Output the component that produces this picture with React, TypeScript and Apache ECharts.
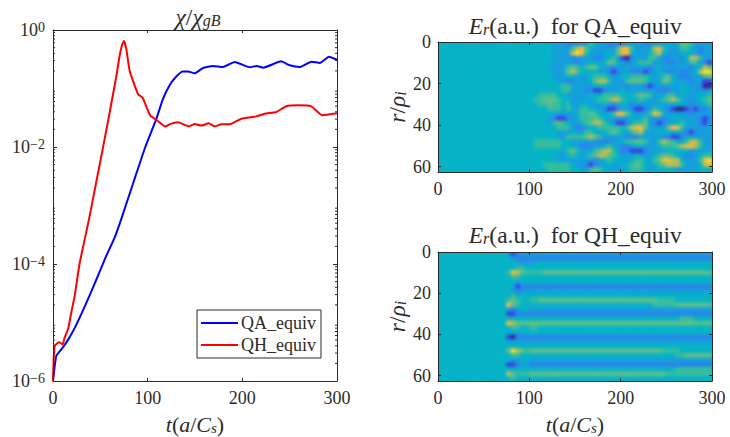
import React, { useEffect, useRef } from "react";
import * as echarts from "echarts";

const FONT = '"Liberation Serif", "Times New Roman", serif';
const INK = "#2b2b2b";

const T_BLUE = [0, 1.8, 3.5, 6.3, 10.6, 16, 23, 30, 38.7, 47.5, 56, 65, 72, 85, 97.5, 109, 116, 123, 130, 137, 142.6, 149.6, 158.5, 169, 179.6, 192, 208, 215, 222, 241, 250, 260.6, 273, 282, 291.5, 300];
const CHI_BLUE = [1e-6, 1.8e-6, 2.7e-6, 3.1e-6, 3.8e-6, 5.1e-6, 8.1e-6, 1.4e-5, 2.9e-5, 6.3e-5, 1.35e-4, 2.8e-4, 5.8e-4, 2.5e-3, 0.01, 0.0297, 0.0653, 0.113, 0.159, 0.196, 0.196, 0.182, 0.224, 0.243, 0.233, 0.284, 0.23, 0.243, 0.227, 0.291, 0.249, 0.233, 0.288, 0.273, 0.35, 0.311];
const T_RED = [0, 0.7, 1.8, 5.3, 7, 10, 12.3, 16, 19, 23, 28, 38, 45, 53.5, 60, 67, 70.4, 73, 75, 77.5, 81, 86.5, 90, 94.7, 99, 103, 109.5, 118.7, 123, 132, 143.7, 149.6, 156.7, 164.4, 170.8, 177.8, 186.6, 199, 214.8, 223.6, 235.9, 246.5, 258.8, 272.9, 284.5, 300];
const CHI_RED = [1e-6, 2.3e-6, 4e-6, 4.5e-6, 4.6e-6, 4.2e-6, 5.5e-6, 7.8e-6, 1.4e-5, 2.9e-5, 1e-4, 5.8e-4, 2.2e-3, 0.0112, 0.04, 0.166, 0.363, 0.56, 0.648, 0.467, 0.199, 0.11, 0.0795, 0.0697, 0.047, 0.0339, 0.029, 0.0223, 0.0244, 0.0264, 0.0225, 0.0247, 0.0232, 0.0254, 0.0225, 0.0244, 0.0244, 0.0305, 0.0334, 0.0371, 0.0397, 0.0496, 0.0515, 0.0496, 0.0348, 0.0376];

const MINOR_DECADES = [1e-6, 1e-5, 1e-4, 1e-3, 1e-2, 1e-1];
const MINOR_STEPS = [2, 3, 4, 5, 6, 7, 8, 9];
const X_NAME = "{xi|t}{xn|(}{xi|a}{xn|/}{xi|C}{xs|s}{xn|)}";
const Y_NAME = "{i|r}{n|/}{i|\u03c1}{sub|i}";

// colour levels 0-9, t in steps of 5 from 0, r in 28 rows from 0 to 62.6
const LEVEL_COLORS = ["#33208f", "#3a42e2", "#2b84ea", "#149fdc", "#06b3c6", "#35bd9f", "#60bf88", "#bcbc55", "#f2bc3a", "#fbe31e"];
const BACKDROP = "#06b3c6";
const QA_FLAT = "44444444444444444444"; // t 0-95
const QA_ROWS = [
  "44444333 22333543 32222333 32233343 46653333",
  "44444333 35786433 33368853 33478533 35543233",
  "44444333 37985333 34368843 33467433 34433233",
  "44444333 32233322 34531023 33553223 32477533",
  "44444333 33233443 46643234 55533322 33355321",
  "44443333 56545664 33233433 33234333 33323476",
  "44444333 67644443 32123322 21234322 32234799",
  "44444333 44333455 54334455 55433564 32233356",
  "44444433 22333467 75333566 65434664 33323311",
  "44444445 54333344 43333233 32123333 34333200",
  "44444445 53332211 23334333 33332223 34433323",
  "44555544 33333444 55554445 66533355 34333445",
  "45566654 43333345 56775444 54334567 64333456",
  "44556554 53344333 43234323 23333333 43323345",
  "44445554 54355443 21123321 12354321 00121223",
  "44444333 33455654 34588643 33587433 33323333",
  "44443211 23355565 43333343 45333234 43333212",
  "44443565 43345677 54211245 56321233 45433213",
  "44444455 53223445 55554578 86433368 85333333",
  "44444433 34335543 45654356 74334443 43212333",
  "44444433 55556765 33333222 33333221 12343333",
  "45555554 43333332 22334556 65335765 43577533",
  "45555554 44322233 45432234 43334555 67887533",
  "44444443 56533356 77532211 12333344 44433334",
  "44444433 45434567 76543334 33345665 43223455",
  "44444433 33333323 45443345 54356887 74333589",
  "44455555 54332123 34334456 54345677 75333478",
  "44445555 54433565 43333455 54334444 33333444",
];
const QH_FLAT = "444444444444"; // t 0-55
const QH_ROWS = [
  "44431233 33333333 33333333 33333333 33333333 33333333",
  "44443222 22222222 22222222 22222222 22222222 22222222",
  "44444333 34444444 44444444 44444444 44444444 44444444",
  "44444554 44444444 44444444 44444444 44444444 44444444",
  "44458765 55566666 66666666 66666666 66666666 66666666",
  "44445544 44444444 44444444 44444444 44444444 44444444",
  "44444344 44444444 44444444 44444444 44444444 44444444",
  "44443122 22222222 22222222 22222222 22222222 22222222",
  "44443233 33333333 33333333 33333333 33333333 33333333",
  "44445444 44444444 44444444 44444444 44444444 44444444",
  "44456544 55666666 66666666 66666666 66665555 44444444",
  "44486544 44444444 44444444 44444444 44455555 66666666",
  "44432344 33333333 33333333 33333333 33333333 33333333",
  "44411222 22222222 22222222 22222222 22222222 22222222",
  "44444444 44444444 44444444 44444444 44444444 45554444",
  "44487666 66666666 66666666 66666666 66666666 66666566",
  "44445544 55444444 44444444 44444444 44444444 44444444",
  "44444344 44444444 44444444 44444444 44444444 44444444",
  "44410222 22222222 22222222 22222222 22222222 22222222",
  "44433333 33333333 33333333 33333333 33333333 33333333",
  "44444444 44444444 44444444 44444444 44444444 44444444",
  "44469765 66666666 66666666 66666666 66666555 54444444",
  "44445544 44444444 44444444 44444444 44444444 55666666",
  "44443344 33333333 33333333 33333333 33333333 33333333",
  "44411233 22222222 22222222 22222222 22222222 22222222",
  "44444444 44444444 44444444 44444444 44444444 55555555",
  "44476555 66666666 66666666 66666666 66666655 55555555",
  "44445444 44444444 44444444 44444444 44444444 44444444",
];

const T_STEPS = Array.from({ length: 60 }, (_, i) => String(i * 5));
const R_ROWS = Array.from({ length: 28 }, (_, i) => String(i));

function cells(flat: string, rows: string[]) {
  const out: number[][] = [];
  rows.forEach((row, r) => {
    const s = flat + row.replace(/ /g, "");
    for (let c = 0; c < s.length; c++) out.push([c, r, Number(s[c])]);
  });
  return out;
}

const base = { fontFamily: FONT, fontSize: 18, color: INK };
const rich = {
  i: { ...base, fontSize: 23.5, fontStyle: "italic", lineHeight: 22 },
  n: { ...base, fontSize: 23.5, lineHeight: 22 },
  sub: { ...base, fontSize: 16, fontStyle: "italic", verticalAlign: "bottom", lineHeight: 22 },
  xi: { ...base, fontSize: 22, fontStyle: "italic", lineHeight: 22 },
  xn: { ...base, fontSize: 22, lineHeight: 22 },
  xs: { ...base, fontSize: 15, fontStyle: "italic", verticalAlign: "bottom", lineHeight: 22 },
  b: { ...base, lineHeight: 20 },
  s: { ...base, fontSize: 14, verticalAlign: "top", lineHeight: 20 },
};

const GRIDS = [
  { left: 53, top: 30, width: 284, height: 351, outerBoundsMode: "none" },
  { left: 438, top: 42, width: 274, height: 130, outerBoundsMode: "none" },
  { left: 438, top: 252, width: 274, height: 129, outerBoundsMode: "none" },
];

function valueX(gridIndex: number, shown: boolean, name?: string) {
  return {
    type: "value", gridIndex, min: 0, max: 300, interval: 100,
    position: shown ? "bottom" : "top",
    name, nameLocation: "middle", nameGap: 32,
    nameTextStyle: { rich },
    axisLine: { show: true, onZero: false, lineStyle: { color: INK, width: 1 } },
    axisTick: { show: true, inside: true, length: 3, lineStyle: { color: INK } },
    axisLabel: { show: shown, margin: 8, fontFamily: FONT, fontSize: 18, color: INK },
    splitLine: { show: false },
    z: 5,
  };
}
function valueY(gridIndex: number, shown: boolean, name?: string) {
  return {
    type: "value", gridIndex, min: 0, max: 62.6, interval: 20, inverse: true,
    position: shown ? "left" : "right",
    name, nameLocation: "middle", nameGap: 30, nameRotate: 90,
    nameTextStyle: { rich },
    axisLine: { show: true, onZero: false, lineStyle: { color: INK, width: 1 } },
    axisTick: { show: true, inside: true, length: 3, lineStyle: { color: INK } },
    axisLabel: { show: shown, margin: 7, showMaxLabel: false, fontFamily: FONT, fontSize: 18, color: INK },
    splitLine: { show: false },
    z: 5,
  };
}
function logY(shown: boolean) {
  return {
    type: "log", logBase: 10, gridIndex: 0, min: 1e-6, max: 1, interval: 2,
    position: shown ? "left" : "right",
    axisLine: { show: true, onZero: false, lineStyle: { color: INK, width: 1 } },
    axisTick: { show: true, inside: true, length: 4, lineStyle: { color: INK } },
    axisLabel: {
      show: shown, margin: 8, rich,
      formatter: (v: number) => {
        const e = Math.round(Math.log10(v));
        return `{b|10}{s|${e === 0 ? "0" : "\u2212" + -e}}`;
      },
    },
    splitLine: { show: false },
    z: 5,
  };
}
const hiddenCat = (gridIndex: number, data: string[], inverse = false) => ({
  type: "category", gridIndex, data, show: false, inverse,
});

const title = (x: number, y: number, text: string) => ({
  text, left: x, top: y, textAlign: "center", padding: 0,
  textStyle: { rich, fontFamily: FONT, fontSize: 23.5, color: INK, fontWeight: "normal" },
});

// Smooths the two colour panels the way the shaded original looks.
function softenPanels(root: HTMLElement) {
  const svg = root.querySelector("svg");
  if (!svg) return;
  const NS = "http://www.w3.org/2000/svg";
  const defs = document.createElementNS(NS, "defs");
  const filter = document.createElementNS(NS, "filter");
  filter.setAttribute("id", "soften");
  filter.setAttribute("filterUnits", "userSpaceOnUse");
  ["x", "y"].forEach((k) => filter.setAttribute(k, "0"));
  filter.setAttribute("width", "730");
  filter.setAttribute("height", "437");
  filter.setAttribute("color-interpolation-filters", "sRGB");
  const blur = document.createElementNS(NS, "feGaussianBlur");
  blur.setAttribute("stdDeviation", "1.7");
  filter.appendChild(blur);
  defs.appendChild(filter);
  svg.insertBefore(defs, svg.firstChild);
  GRIDS.slice(1).forEach((g, i) => {
    const inPanel = Array.from(svg.querySelectorAll("path")).filter((p) => {
      const fill = p.getAttribute("fill");
      if (!fill || fill === "none") return false;
      const b = (p as SVGPathElement).getBBox();
      return b.width > 3 && b.width < 7 && b.height > 3 && b.height < 7 && b.x >= g.left - 4 && b.x < g.left + g.width && b.y >= g.top - 4 && b.y < g.top + g.height;
    });
    if (!inPanel.length) return;
    const clip = document.createElementNS(NS, "clipPath");
    clip.setAttribute("id", "panel" + i);
    const cr = document.createElementNS(NS, "rect");
    const back = document.createElementNS(NS, "rect");
    [cr, back].forEach((r) => {
      r.setAttribute("x", String(g.left));
      r.setAttribute("y", String(g.top));
      r.setAttribute("width", String(g.width));
      r.setAttribute("height", String(g.height));
    });
    back.setAttribute("fill", BACKDROP);
    clip.appendChild(cr);
    defs.appendChild(clip);
    const outer = document.createElementNS(NS, "g");
    outer.setAttribute("clip-path", `url(#panel${i})`);
    const inner = document.createElementNS(NS, "g");
    inner.setAttribute("filter", "url(#soften)");
    inPanel[0].parentNode!.insertBefore(outer, inPanel[0]);
    outer.appendChild(back);
    outer.appendChild(inner);
    inPanel.forEach((p) => inner.appendChild(p));
  });
}

export default function App() {
  const ref = useRef<HTMLDivElement>(null);
  useEffect(() => {
    const chart = echarts.init(ref.current!, undefined, { renderer: "svg" });
    const minor = MINOR_DECADES.flatMap((d) => MINOR_STEPS.map((m) => [0, d * m]));
    chart.setOption({
      animation: false,
      backgroundColor: "#fff",
      title: [
        title(198, 6, "{i|\u03c7}{n|/}{i|\u03c7}{sub|gB}"),
        title(575.3, 15, "{i|E}{sub|r}{n|(a.u.)  for QA_equiv}"),
        title(575.3, 224, "{i|E}{sub|r}{n|(a.u.)  for QH_equiv}"),
      ],
      grid: GRIDS,
      xAxis: [
        valueX(0, true, X_NAME), valueX(0, false),
        valueX(1, true), valueX(1, false), hiddenCat(1, T_STEPS),
        valueX(2, true, X_NAME), valueX(2, false), hiddenCat(2, T_STEPS),
      ],
      yAxis: [
        logY(true), logY(false),
        valueY(1, true, Y_NAME), valueY(1, false), hiddenCat(1, R_ROWS, true),
        valueY(2, true, Y_NAME), valueY(2, false), hiddenCat(2, R_ROWS, true),
      ],
      legend: {
        left: 197, top: 310, orient: "vertical", icon: "rect", itemWidth: 37, itemHeight: 2, itemGap: 4, padding: [4, 5, 4, 4],
        borderColor: INK, borderWidth: 1, backgroundColor: "#fff",
        data: ["QA_equiv", "QH_equiv"],
        textStyle: { fontFamily: FONT, fontSize: 18, color: INK, padding: [0, 0, 0, -2] },
      },
      visualMap: {
        show: false, min: 0, max: 9, seriesIndex: [3, 4], dimension: 2,
        inRange: { color: LEVEL_COLORS },
      },
      series: [
        {
          type: "line", name: "QA_equiv", xAxisIndex: 0, yAxisIndex: 0, symbol: "none",
          lineStyle: { color: "#0000ff", width: 2 }, itemStyle: { color: "#0000ff" }, smooth: 0.15, z: 3,
          data: T_BLUE.map((t, i) => [t, CHI_BLUE[i]]),
        },
        {
          type: "line", name: "QH_equiv", xAxisIndex: 0, yAxisIndex: 0, symbol: "none",
          lineStyle: { color: "#ff0000", width: 2 }, itemStyle: { color: "#ff0000" }, smooth: 0.15, z: 4,
          data: T_RED.map((t, i) => [t, CHI_RED[i]]),
        },
        {
          type: "custom", xAxisIndex: 0, yAxisIndex: 0, silent: true, clip: false, z: 6,
          data: minor,
          renderItem: (params: any, api: any) => {
            const y = api.coord([0, api.value(1)])[1];
            const cs = params.coordSys;
            const st = { stroke: INK, lineWidth: 1 };
            return {
              type: "group",
              children: [
                { type: "line", shape: { x1: cs.x, y1: y, x2: cs.x + 2, y2: y }, style: st },
                { type: "line", shape: { x1: cs.x + cs.width - 2, y1: y, x2: cs.x + cs.width, y2: y }, style: st },
              ],
            };
          },
        },
        { type: "heatmap", xAxisIndex: 4, yAxisIndex: 4, silent: true, data: cells(QA_FLAT, QA_ROWS), z: 1 },
        { type: "heatmap", xAxisIndex: 7, yAxisIndex: 7, silent: true, data: cells(QH_FLAT, QH_ROWS), z: 1 },
      ],
    });
    softenPanels(ref.current!);
    return () => chart.dispose();
  }, []);
  return <div ref={ref} style={{ position: "absolute", left: 0, top: 0, width: 730, height: 437 }} />;
}
